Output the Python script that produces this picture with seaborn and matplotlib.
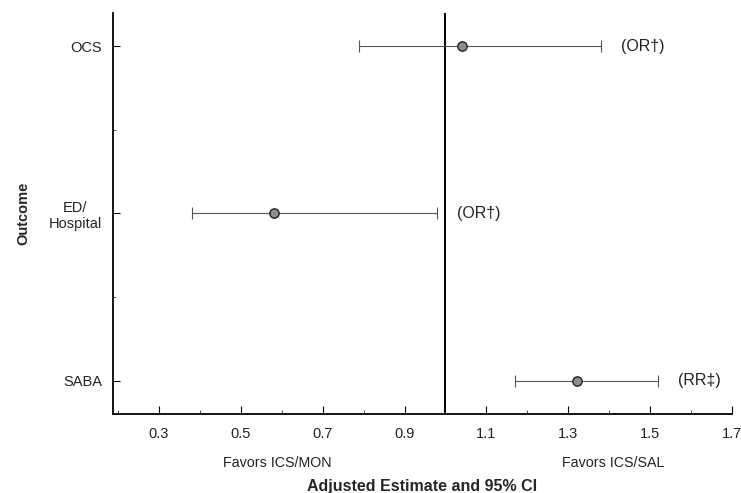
import pandas as pd
import numpy as np
import matplotlib
matplotlib.use("Agg")
import matplotlib.pyplot as plt
from matplotlib.ticker import MultipleLocator
import seaborn as sns

# Datos
outcomes = ["OCS", "ED/\nHospital", "SABA"]
estimate = [1.04, 0.58, 1.32]
lower = [0.79, 0.38, 1.17]
upper = [1.38, 0.98, 1.52]
measure = ["(OR\u2020)", "(OR\u2020)", "(RR\u2021)"]
xticks = [0.3, 0.5, 0.7, 0.9, 1.1, 1.3, 1.5, 1.7]

df = pd.DataFrame({"outcome": outcomes, "estimate": estimate,
                   "lower": lower, "upper": upper, "measure": measure})
df["ypos"] = [3, 2, 1]

sns.set_style("white")
plt.rcParams["font.family"] = ["Liberation Sans", "DejaVu Sans"]

fig = plt.figure(figsize=(7.41, 4.93), dpi=100)
ax = fig.add_axes([0.1525, 0.160, 0.8355, 0.814])

# Intervalos de confianza
ax.errorbar(df["estimate"], df["ypos"],
            xerr=[df["estimate"] - df["lower"], df["upper"] - df["estimate"]],
            fmt="none", ecolor="#555555", elinewidth=0.8, capsize=4, capthick=0.8, zorder=2)

# Estimaciones puntuales
sns.scatterplot(data=df, x="estimate", y="ypos", ax=ax, s=45, color="#8c8c8c",
                edgecolor="#222222", linewidth=1.0, zorder=3, legend=False)

# Linea de no efecto
ax.axvline(1.0, color="black", lw=1.4, zorder=1)

for _, r in df.iterrows():
    ax.annotate(r["measure"], xy=(r["upper"], r["ypos"]), xytext=(14, 0),
                textcoords="offset points", va="center", ha="left", fontsize=11.5, color="#222222")

ax.set_xlim(0.188, 1.70)
ax.set_ylim(0.80, 3.2)
ax.set_xticks(xticks)
ax.set_xticklabels([f"{v:.1f}" for v in xticks])
ax.xaxis.set_minor_locator(MultipleLocator(0.1))
ax.set_yticks(df["ypos"])
ax.set_yticklabels(df["outcome"], multialignment="center")
ax.set_yticks([1.5, 2.5], minor=True)

for s in ["top", "right"]:
    ax.spines[s].set_visible(False)
for s in ["left", "bottom"]:
    ax.spines[s].set_color("black")
    ax.spines[s].set_linewidth(1.3)

ax.tick_params(axis="x", which="major", direction="in", length=6, width=0.8, pad=9,
               labelsize=10.5, colors="black", labelcolor="#222222", bottom=True)
ax.tick_params(axis="x", which="minor", direction="in", length=3, width=0.6, bottom=True)
ax.tick_params(axis="y", which="major", direction="in", length=5, width=0.8, pad=8,
               labelsize=10.5, colors="black", labelcolor="#222222", left=True)
ax.tick_params(axis="y", which="minor", direction="in", length=2, width=0.6, left=True)

ax.set_xlabel("")
ax.set_ylabel("Outcome", fontsize=10.5, fontweight="bold", labelpad=13)

fig.text(277 / 741, 1 - 463 / 493, "Favors ICS/MON",
         ha="center", va="center", fontsize=10.3, color="#222222")
fig.text(613 / 741, 1 - 463 / 493, "Favors ICS/SAL",
         ha="center", va="center", fontsize=10.3, color="#222222")
fig.text((113 + 732) / 2 / 741, 1 - 487 / 493, "Adjusted Estimate and 95% CI",
         ha="center", va="center", fontsize=11.5, fontweight="bold")

fig.savefig("out.png", dpi=100)
